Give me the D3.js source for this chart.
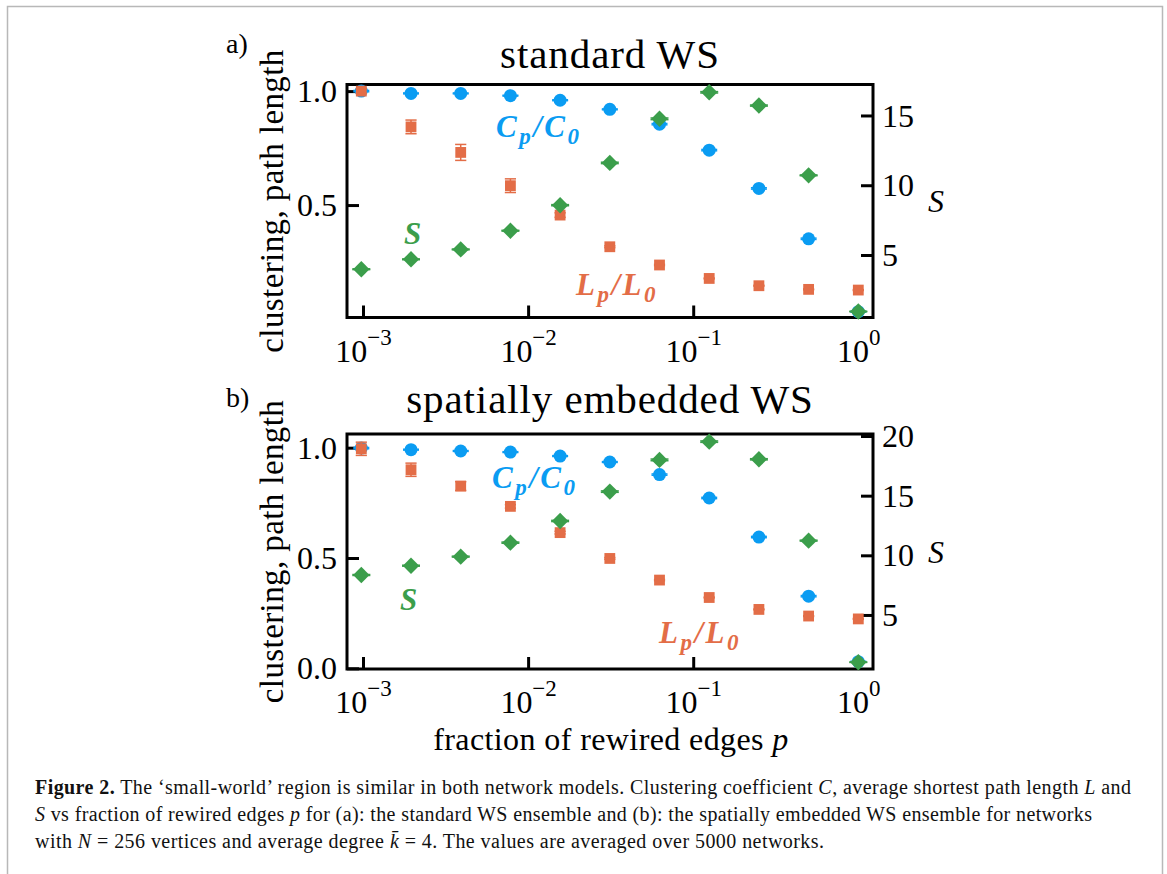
<!DOCTYPE html>
<html>
<head>
<meta charset="utf-8">
<script src="https://cdn.jsdelivr.net/npm/d3@7"></script>
<style>
body { margin: 0; background: #fff; }
svg { display: block; }
</style>
</head>
<body>
<div id="chart"></div>
<script>
// fraction of rewired edges (2^-10 ... 2^0)
var pValues = [0.0009765625, 0.001953125, 0.00390625, 0.0078125, 0.015625, 0.03125, 0.0625, 0.125, 0.25, 0.5, 1];

// a) standard WS
var clustA = [1.0, 0.99, 0.99, 0.98, 0.96, 0.92, 0.855, 0.741, 0.573, 0.352, 0.032];
var clustErrA = [0.003, 0.002, 0.002, 0.002, 0.002, 0.002, 0.003, 0.003, 0.003, 0.003, 0.002];
var pathA = [1.0, 0.843, 0.731, 0.585, 0.456, 0.317, 0.237, 0.178, 0.146, 0.130, 0.127];
var pathErrA = [0.01, 0.03, 0.035, 0.03, 0.01, 0.004, 0.003, 0.002, 0.002, 0.002, 0.002];
var smallA = [3.98, 4.69, 5.40, 6.74, 8.57, 11.6, 14.76, 16.66, 15.71, 10.71, 0.95];
var smallErrA = [0.03, 0.03, 0.03, 0.03, 0.04, 0.05, 0.06, 0.05, 0.04, 0.03, 0.02];

// b) spatially embedded WS
var clustB = [0.998, 0.991, 0.985, 0.98, 0.962, 0.935, 0.878, 0.772, 0.595, 0.327, 0.03];
var clustErrB = [0.003, 0.002, 0.002, 0.002, 0.002, 0.002, 0.003, 0.003, 0.003, 0.003, 0.002];
var pathB = [0.995, 0.90, 0.826, 0.734, 0.615, 0.498, 0.40, 0.321, 0.267, 0.237, 0.224];
var pathErrB = [0.03, 0.03, 0.02, 0.008, 0.006, 0.004, 0.003, 0.002, 0.002, 0.002, 0.002];
var smallB = [8.35, 9.13, 9.89, 11.06, 12.88, 15.34, 18.0, 19.53, 18.05, 11.23, 1.04];
var smallErrB = [0.04, 0.04, 0.04, 0.05, 0.05, 0.06, 0.07, 0.06, 0.05, 0.04, 0.02];

// axis ticks
var xTicks = [0.001, 0.01, 0.1, 1];
var xTickExp = ["\u22123", "\u22122", "\u22121", "0"];
var leftTicksA = [0.5, 1.0];
var rightTicksA = [5, 10, 15];
var leftTicksB = [0.0, 0.5, 1.0];
var rightTicksB = [5, 10, 15, 20];

var W = 1167, H = 874;
var serif = "'Liberation Serif', 'Times New Roman', serif";
var blue = "#0a9cf2", orange = "#e36d47", green = "#3b9e4b";

var svg = d3.select('#chart').append('svg')
    .attr('width', W).attr('height', H)
    .style('font-family', serif);

svg.append('rect').attr('width', W).attr('height', H).attr('fill', '#fff');

// page border
svg.append('path')
    .attr('d', 'M7.5,' + H + 'V6.5H1162.5V' + H)
    .attr('fill', 'none').attr('stroke', '#b8b8b8').attr('stroke-width', 1.5);

var plotLeft = 347, plotRight = 873;
var x = d3.scaleLog()
    .domain([Math.pow(10, -3.097), Math.pow(10, 0.089)])
    .range([plotLeft, plotRight]);

function mathLabel(g, px, py, color, parts) {
    var t = g.append('text')
        .attr('x', px).attr('y', py)
        .attr('fill', color)
        .style('font-style', 'italic')
        .style('font-weight', 'bold')
        .style('font-size', '31px')
        .style('letter-spacing', '2.5px');
    var shifted = 0;
    parts.forEach(function(part) {
        var dy = (part.sub ? 7 : 0) - shifted;
        shifted = part.sub ? 7 : 0;
        t.append('tspan')
            .attr('dy', dy)
            .style('font-size', part.sub ? '23px' : '31px')
            .text(part.t);
    });
    return t;
}

function drawPanel(cfg) {
    var g = svg.append('g');
    var yL = d3.scaleLinear().domain(cfg.leftDomain).range([cfg.bottom, cfg.top]);
    var yR = d3.scaleLinear().domain(cfg.rightDomain).range([cfg.bottom, cfg.top]);

    // panel letter and title
    g.append('text').attr('x', 226).attr('y', cfg.letterY)
        .style('font-size', '28px').text(cfg.letter);
    g.append('text').attr('x', (plotLeft + plotRight) / 2).attr('y', cfg.titleY)
        .attr('text-anchor', 'middle')
        .style('font-size', '41px')
        .style('letter-spacing', '0.9px')
        .text(cfg.title);

    // left axis
    var axL = g.append('g').attr('transform', 'translate(' + plotLeft + ',0)')
        .call(d3.axisLeft(yL).tickValues(cfg.leftTicks).tickSize(-12).tickPadding(10)
            .tickFormat(d3.format('.1f')));
    // right axis
    var axR = g.append('g').attr('transform', 'translate(' + plotRight + ',0)')
        .call(d3.axisRight(yR).tickValues(cfg.rightTicks).tickSize(-12).tickPadding(9)
            .tickFormat(d3.format('d')));
    // bottom axis
    var axB = g.append('g').attr('transform', 'translate(0,' + cfg.bottom + ')')
        .call(d3.axisBottom(x).tickValues(xTicks).tickSize(-12).tickFormat(''));

    [axL, axR, axB].forEach(function(a) {
        a.attr('font-family', null).attr('font-size', null);
        a.select('.domain').remove();
        a.selectAll('.tick line').attr('stroke', '#000').attr('stroke-width', 3);
        a.selectAll('.tick text').style('font-size', '32px').attr('fill', '#000');
    });
    axL.selectAll('.tick text').attr('dy', '0.33em');
    axR.selectAll('.tick text').attr('dy', '0.33em');

    axB.selectAll('.tick text').each(function(d, i) {
        var t = d3.select(this).attr('y', 44).attr('dy', null).text('');
        t.append('tspan').text('10');
        t.append('tspan').attr('dy', -17).style('font-size', '23px').text(xTickExp[i]);
    });

    // frame
    g.append('rect')
        .attr('x', plotLeft).attr('y', cfg.top)
        .attr('width', plotRight - plotLeft).attr('height', cfg.bottom - cfg.top)
        .attr('fill', 'none').attr('stroke', '#000').attr('stroke-width', 3);

    // axis titles
    g.append('text')
        .attr('transform', 'translate(283,' + ((cfg.top + cfg.bottom) / 2) + ') rotate(-90)')
        .attr('text-anchor', 'middle')
        .style('font-size', '33px')
        .style('letter-spacing', '0.4px')
        .text('clustering, path length');
    g.append('text')
        .attr('x', 928).attr('y', (cfg.top + cfg.bottom) / 2 + 11)
        .style('font-size', '32px').style('font-style', 'italic')
        .text('S');

    function errorBars(vals, errs, yScale, color, cap) {
        var eg = g.append('g').attr('stroke', color).attr('stroke-width', 1.5);
        vals.forEach(function(v, i) {
            var cx = x(pValues[i]), y0 = yScale(v - errs[i]), y1 = yScale(v + errs[i]);
            eg.append('line').attr('x1', cx).attr('x2', cx).attr('y1', y0).attr('y2', y1);
            eg.append('line').attr('x1', cx - cap).attr('x2', cx + cap).attr('y1', y0).attr('y2', y0);
            eg.append('line').attr('x1', cx - cap).attr('x2', cx + cap).attr('y1', y1).attr('y2', y1);
        });
    }

    // clustering
    errorBars(cfg.clust, cfg.clustErr, yL, blue, 8);
    g.append('g').selectAll('circle').data(cfg.clust).enter().append('circle')
        .attr('cx', function(d, i) { return x(pValues[i]); })
        .attr('cy', function(d) { return yL(d); })
        .attr('r', 6.5)
        .attr('fill', blue);

    // path length
    errorBars(cfg.path, cfg.pathErr, yL, orange, 5.6);
    g.append('g').selectAll('rect').data(cfg.path).enter().append('rect')
        .attr('x', function(d, i) { return x(pValues[i]) - 5.4; })
        .attr('y', function(d) { return yL(d) - 5.4; })
        .attr('width', 10.8).attr('height', 10.8)
        .attr('fill', orange);

    // small-world propensity S
    errorBars(cfg.small, cfg.smallErr, yR, green, 9);
    g.append('g').selectAll('path').data(cfg.small).enter().append('path')
        .attr('transform', function(d, i) {
            return 'translate(' + x(pValues[i]) + ',' + yR(d) + ')';
        })
        .attr('d', 'M0,-8.2L8.2,0L0,8.2L-8.2,0Z')
        .attr('fill', green);

    // in-plot labels
    var L = cfg.labels;
    mathLabel(g, L.c[0], L.c[1], blue, [{t: 'C'}, {t: 'p', sub: true}, {t: '/C'}, {t: '0', sub: true}]);
    mathLabel(g, L.s[0], L.s[1], green, [{t: 'S'}]);
    mathLabel(g, L.l[0], L.l[1], orange, [{t: 'L'}, {t: 'p', sub: true}, {t: '/L'}, {t: '0', sub: true}]);
}

drawPanel({
    letter: 'a)', title: 'standard WS',
    top: 84.5, bottom: 317.5, letterY: 53, titleY: 68,
    leftDomain: [0.0066, 1.029], rightDomain: [0.52, 17.22],
    leftTicks: leftTicksA, rightTicks: rightTicksA,
    clust: clustA, clustErr: clustErrA,
    path: pathA, pathErr: pathErrA,
    small: smallA, smallErr: smallErrA,
    labels: { c: [496, 137], s: [404, 244], l: [576, 295] }
});

drawPanel({
    letter: 'b)', title: 'spatially embedded WS',
    top: 434, bottom: 669, letterY: 407, titleY: 413,
    leftDomain: [-0.003, 1.062], rightDomain: [0.47, 20.17],
    leftTicks: leftTicksB, rightTicks: rightTicksB,
    clust: clustB, clustErr: clustErrB,
    path: pathB, pathErr: pathErrB,
    small: smallB, smallErr: smallErrB,
    labels: { c: [492, 488], s: [400, 610], l: [659, 643] }
});

// x axis title
var xt = svg.append('text')
    .attr('x', 611).attr('y', 750)
    .attr('text-anchor', 'middle')
    .style('font-size', '32px')
    .style('letter-spacing', '0.4px');
xt.append('tspan').text('fraction of rewired edges ');
xt.append('tspan').style('font-style', 'italic').text('p');

// caption
var capLines = [
    [{t: 'Figure 2.', b: true}, {t: ' The \u2018small-world\u2019 region is similar in both network models. Clustering coefficient '},
     {t: 'C', i: true}, {t: ', average shortest path length '}, {t: 'L', i: true}, {t: ' and'}],
    [{t: 'S', i: true}, {t: ' vs fraction of rewired edges '}, {t: 'p', i: true},
     {t: ' for (a): the standard WS ensemble and (b): the spatially embedded WS ensemble for networks'}],
    [{t: 'with '}, {t: 'N', i: true}, {t: ' = 256 vertices and average degree '}, {t: 'k\u0304', i: true},
     {t: ' = 4. The values are averaged over 5000 networks.'}]
];
var capY = [794, 821, 848];
var capWidth = [1096, 1057, 789];
capLines.forEach(function(parts, li) {
    var t = svg.append('text').attr('x', 35).attr('y', capY[li])
        .attr('textLength', capWidth[li]).attr('lengthAdjust', 'spacing')
        .style('font-size', '20px').attr('fill', '#111');
    parts.forEach(function(p) {
        t.append('tspan')
            .style('font-weight', p.b ? 'bold' : null)
            .style('font-style', p.i ? 'italic' : null)
            .text(p.t);
    });
});
</script>
</body>
</html>
